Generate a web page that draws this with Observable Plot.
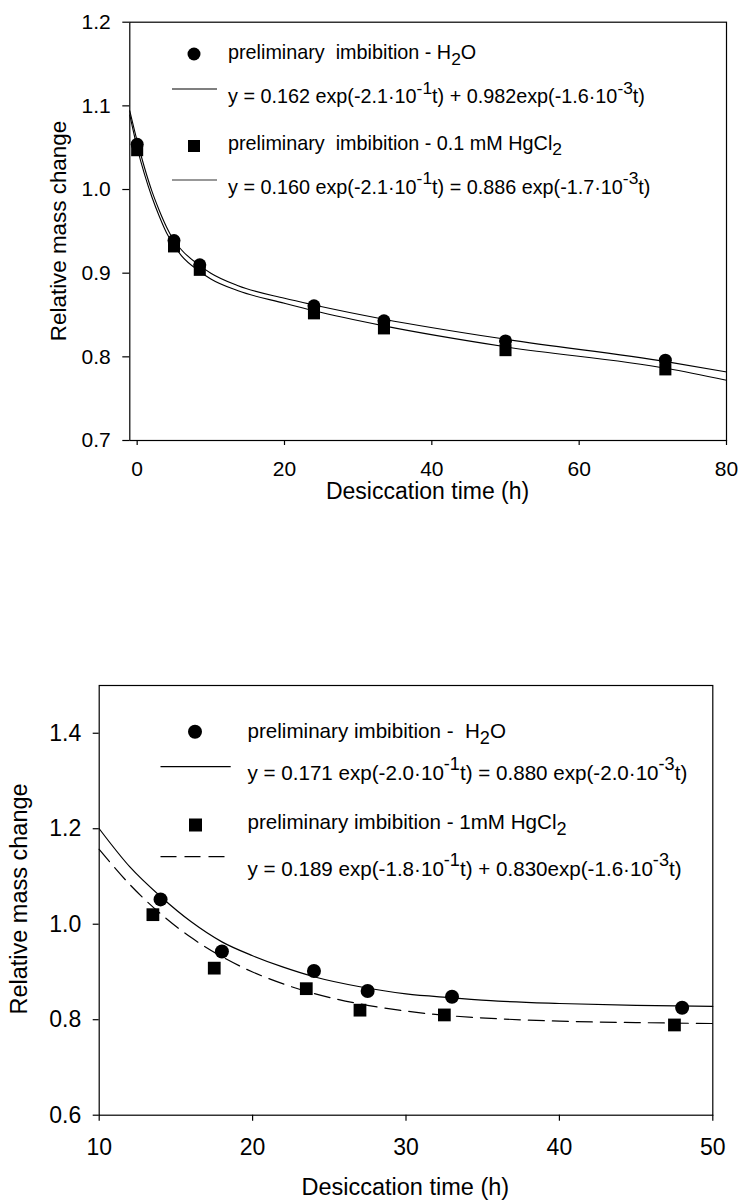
<!DOCTYPE html>
<html><head><meta charset="utf-8">
<script src="https://cdn.jsdelivr.net/npm/d3@7"></script>
<script src="https://cdn.jsdelivr.net/npm/@observablehq/plot@0.6"></script>
<style>
body{margin:0;background:#fff;}
svg{display:block;}
text{white-space:pre;}
</style></head><body><div id="chart"></div>
<script>
// ---------- Top panel data ----------
const topTimeH2O = [0, 5, 8.5, 24, 33.5, 50, 71.7];
const topMassH2O = [1.054, 0.939, 0.910, 0.861, 0.843, 0.819, 0.796];
const topTimeHg = [0, 5, 8.5, 24, 33.5, 50, 71.7];
const topMassHg = [1.047, 0.932, 0.904, 0.852, 0.834, 0.808, 0.785];
const topFitTime = [-1, 0, 1, 2, 3, 4, 5, 6, 8.5, 10, 13.7, 20, 24, 33.5, 50, 72, 80];
const topFitH2O = [1.094, 1.058, 1.026, 0.998, 0.975, 0.955, 0.939, 0.928, 0.909, 0.900, 0.885, 0.870, 0.862, 0.845, 0.821, 0.794, 0.782];
const topFitHg = [1.089, 1.050, 1.018, 0.991, 0.968, 0.948, 0.933, 0.921, 0.902, 0.893, 0.879, 0.864, 0.855, 0.837, 0.812, 0.786, 0.772];
const topXTicks = [0, 20, 40, 60, 80];
const topYTicks = [0.7, 0.8, 0.9, 1.0, 1.1, 1.2];

// ---------- Bottom panel data ----------
const botTimeH2O = [14.0, 18.0, 24.0, 27.5, 33.0, 48.0];
const botMassH2O = [1.052, 0.943, 0.902, 0.860, 0.848, 0.825];
const botTimeHg = [13.5, 17.5, 23.5, 27.0, 32.5, 47.5];
const botMassHg = [1.020, 0.908, 0.865, 0.820, 0.810, 0.789];
const botFitTime = [10, 12, 14, 16, 18, 20, 22, 24, 27, 30, 33, 36, 40, 45, 50];
const botFitH2O = [1.200, 1.120, 1.058, 1.005, 0.963, 0.934, 0.910, 0.890, 0.869, 0.854, 0.846, 0.839, 0.834, 0.830, 0.828];
const botFitHg = [1.157, 1.083, 1.022, 0.972, 0.932, 0.900, 0.875, 0.855, 0.833, 0.818, 0.808, 0.802, 0.797, 0.794, 0.792];
const botXTicks = [10, 20, 30, 40, 50];
const botYTicks = [0.6, 0.8, 1.0, 1.2, 1.4];

// ---------- Texts ----------
const xTitle = "Desiccation time (h)";
const yTitle = "Relative mass change";
const topLegend = [
  [["preliminary  imbibition - H", "n"], ["2", "sub"], ["O", "n"]],
  [["y = 0.162 exp(-2.1\u00B710", "n"], ["-1", "sup"], ["t) + 0.982exp(-1.6\u00B710", "n"], ["-3", "sup"], ["t)", "n"]],
  [["preliminary  imbibition - 0.1 mM HgCl", "n"], ["2", "sub"]],
  [["y = 0.160 exp(-2.1\u00B710", "n"], ["-1", "sup"], ["t) = 0.886 exp(-1.7\u00B710", "n"], ["-3", "sup"], ["t)", "n"]]
];
const botLegend = [
  [["preliminary imbibition -  H", "n"], ["2", "sub"], ["O", "n"]],
  [["y = 0.171 exp(-2.0\u00B710", "n"], ["-1", "sup"], ["t) = 0.880 exp(-2.0\u00B710", "n"], ["-3", "sup"], ["t)", "n"]],
  [["preliminary imbibition - 1mM HgCl", "n"], ["2", "sub"]],
  [["y = 0.189 exp(-1.8\u00B710", "n"], ["-1", "sup"], ["t) + 0.830exp(-1.6\u00B710", "n"], ["-3", "sup"], ["t)", "n"]]
];

const FONT = "Arial, 'Liberation Sans', sans-serif";
const fmt1 = d3.format(".1f");
const zip = (xs, ys) => xs.map((x, i) => ({t: x, m: ys[i]}));

function richText(svg, x, y, parts, size) {
  const t = svg.append("text").attr("x", x).attr("y", y).attr("text-anchor", "start")
    .attr("font-family", FONT).attr("font-size", size).attr("fill", "#000");
  let shift = 0;
  for (const [s, kind] of parts) {
    const target = kind === "sub" ? 0.3 * size : kind === "sup" ? -0.47 * size : 0;
    const sp = t.append("tspan").text(s).attr("dy", target - shift);
    if (kind !== "n") sp.attr("font-size", size * 0.88);
    shift = target;
  }
  return t;
}

function yTitleText(svg, x, y, size) {
  svg.append("text").attr("transform", `translate(${x},${y}) rotate(-90)`)
    .attr("text-anchor", "middle").attr("font-family", FONT).attr("font-size", size)
    .attr("fill", "#000").text(yTitle);
}
function xTitleText(svg, x, y, size) {
  svg.append("text").attr("x", x).attr("y", y)
    .attr("text-anchor", "middle").attr("font-family", FONT).attr("font-size", size)
    .attr("fill", "#000").text(xTitle);
}

// ---------- Top chart ----------
const topChart = Plot.plot({
  width: 743, height: 510,
  marginLeft: 129.3, marginRight: 17, marginTop: 21.7, marginBottom: 70,
  style: {fontFamily: FONT, color: "#000", background: "#fff"},
  x: {domain: [-1, 80]},
  y: {domain: [0.7, 1.2]},
  marks: [
    Plot.line(zip(topFitTime, topFitH2O), {x: "t", y: "m", curve: "monotone-x", stroke: "#000", strokeWidth: 1.1}),
    Plot.line(zip(topFitTime, topFitHg), {x: "t", y: "m", curve: "monotone-x", stroke: "#000", strokeWidth: 1.1}),
    Plot.dot(zip(topTimeHg, topMassHg), {x: "t", y: "m", symbol: "square", r: 6.8, fill: "#000", stroke: "none"}),
    Plot.dot(zip(topTimeH2O, topMassH2O), {x: "t", y: "m", symbol: "circle", r: 6.5, fill: "#000", stroke: "none"}),
    Plot.frame({stroke: "#000", strokeWidth: 1.2}),
    Plot.axisX({ticks: topXTicks, tickSize: 5, tickPadding: 16, label: null, fontSize: 21, strokeWidth: 1.2}),
    Plot.axisY({ticks: topYTicks, tickSize: 7, tickPadding: 12, label: null, fontSize: 21, tickFormat: fmt1, strokeWidth: 1.2})
  ]
});

// ---------- Bottom chart ----------
const botChart = Plot.plot({
  width: 743, height: 692,
  marginLeft: 98.7, marginRight: 30.7, marginTop: 175, marginBottom: 87.3,
  style: {fontFamily: FONT, color: "#000", background: "#fff"},
  x: {domain: [10, 50]},
  y: {domain: [0.6, 1.5]},
  marks: [
    Plot.line(zip(botFitTime, botFitH2O), {x: "t", y: "m", curve: "monotone-x", stroke: "#000", strokeWidth: 1.2}),
    Plot.line(zip(botFitTime, botFitHg), {x: "t", y: "m", curve: "monotone-x", stroke: "#000", strokeWidth: 1.2, strokeDasharray: "16,8"}),
    Plot.dot(zip(botTimeHg, botMassHg), {x: "t", y: "m", symbol: "square", r: 7.2, fill: "#000", stroke: "none"}),
    Plot.dot(zip(botTimeH2O, botMassH2O), {x: "t", y: "m", symbol: "circle", r: 7, fill: "#000", stroke: "none"}),
    Plot.frame({stroke: "#000", strokeWidth: 1.2}),
    Plot.axisX({ticks: botXTicks, tickSize: 6, tickPadding: 17, label: null, fontSize: 23, strokeWidth: 1.2}),
    Plot.axisY({ticks: botYTicks, tickSize: 6, tickPadding: 12, label: null, fontSize: 23, tickFormat: fmt1, strokeWidth: 1.2})
  ]
});

const host = document.getElementById("chart");
host.appendChild(topChart);
host.appendChild(botChart);

// ---------- Top legend & titles ----------
{
  const s = d3.select(topChart);
  const fs = 19.8;
  s.append("circle").attr("cx", 194).attr("cy", 54).attr("r", 6.5).attr("fill", "#000");
  richText(s, 228, 59, topLegend[0], fs);
  s.append("line").attr("x1", 172).attr("x2", 217).attr("y1", 89).attr("y2", 89).attr("stroke", "#000").attr("stroke-width", 1.2);
  richText(s, 228, 103, topLegend[1], fs);
  s.append("rect").attr("x", 188).attr("y", 140).attr("width", 12).attr("height", 12).attr("fill", "#000");
  richText(s, 228, 149.5, topLegend[2], fs);
  s.append("line").attr("x1", 172).attr("x2", 217).attr("y1", 180).attr("y2", 180).attr("stroke", "#333").attr("stroke-width", 1.2);
  richText(s, 228, 193.5, topLegend[3], fs);
  yTitleText(s, 66, 231, 22.4);
  xTitleText(s, 427.6, 499, 23);
}
// ---------- Bottom legend & titles ----------
{
  const s = d3.select(botChart);
  const fs = 20.6;
  const oy = 510;
  s.append("circle").attr("cx", 195).attr("cy", 731.7 - oy).attr("r", 7).attr("fill", "#000");
  richText(s, 247.5, 737.5 - oy, botLegend[0], fs);
  s.append("line").attr("x1", 160.5).attr("x2", 230.7).attr("y1", 766.7 - oy).attr("y2", 766.7 - oy).attr("stroke", "#000").attr("stroke-width", 1.2);
  richText(s, 247.5, 779.5 - oy, botLegend[1], fs);
  s.append("rect").attr("x", 189).attr("y", 818.5 - oy).attr("width", 13).attr("height", 13).attr("fill", "#000");
  richText(s, 247.5, 829 - oy, botLegend[2], fs);
  s.append("line").attr("x1", 160.5).attr("x2", 226).attr("y1", 856.7 - oy).attr("y2", 856.7 - oy).attr("stroke", "#000").attr("stroke-width", 1.2).attr("stroke-dasharray", "16,8");
  richText(s, 247.5, 876 - oy, botLegend[3], fs);
  yTitleText(s, 27, 899 - oy, 23.5);
  xTitleText(s, 405.3, 1195 - oy, 23.5);
}
</script></body></html>
